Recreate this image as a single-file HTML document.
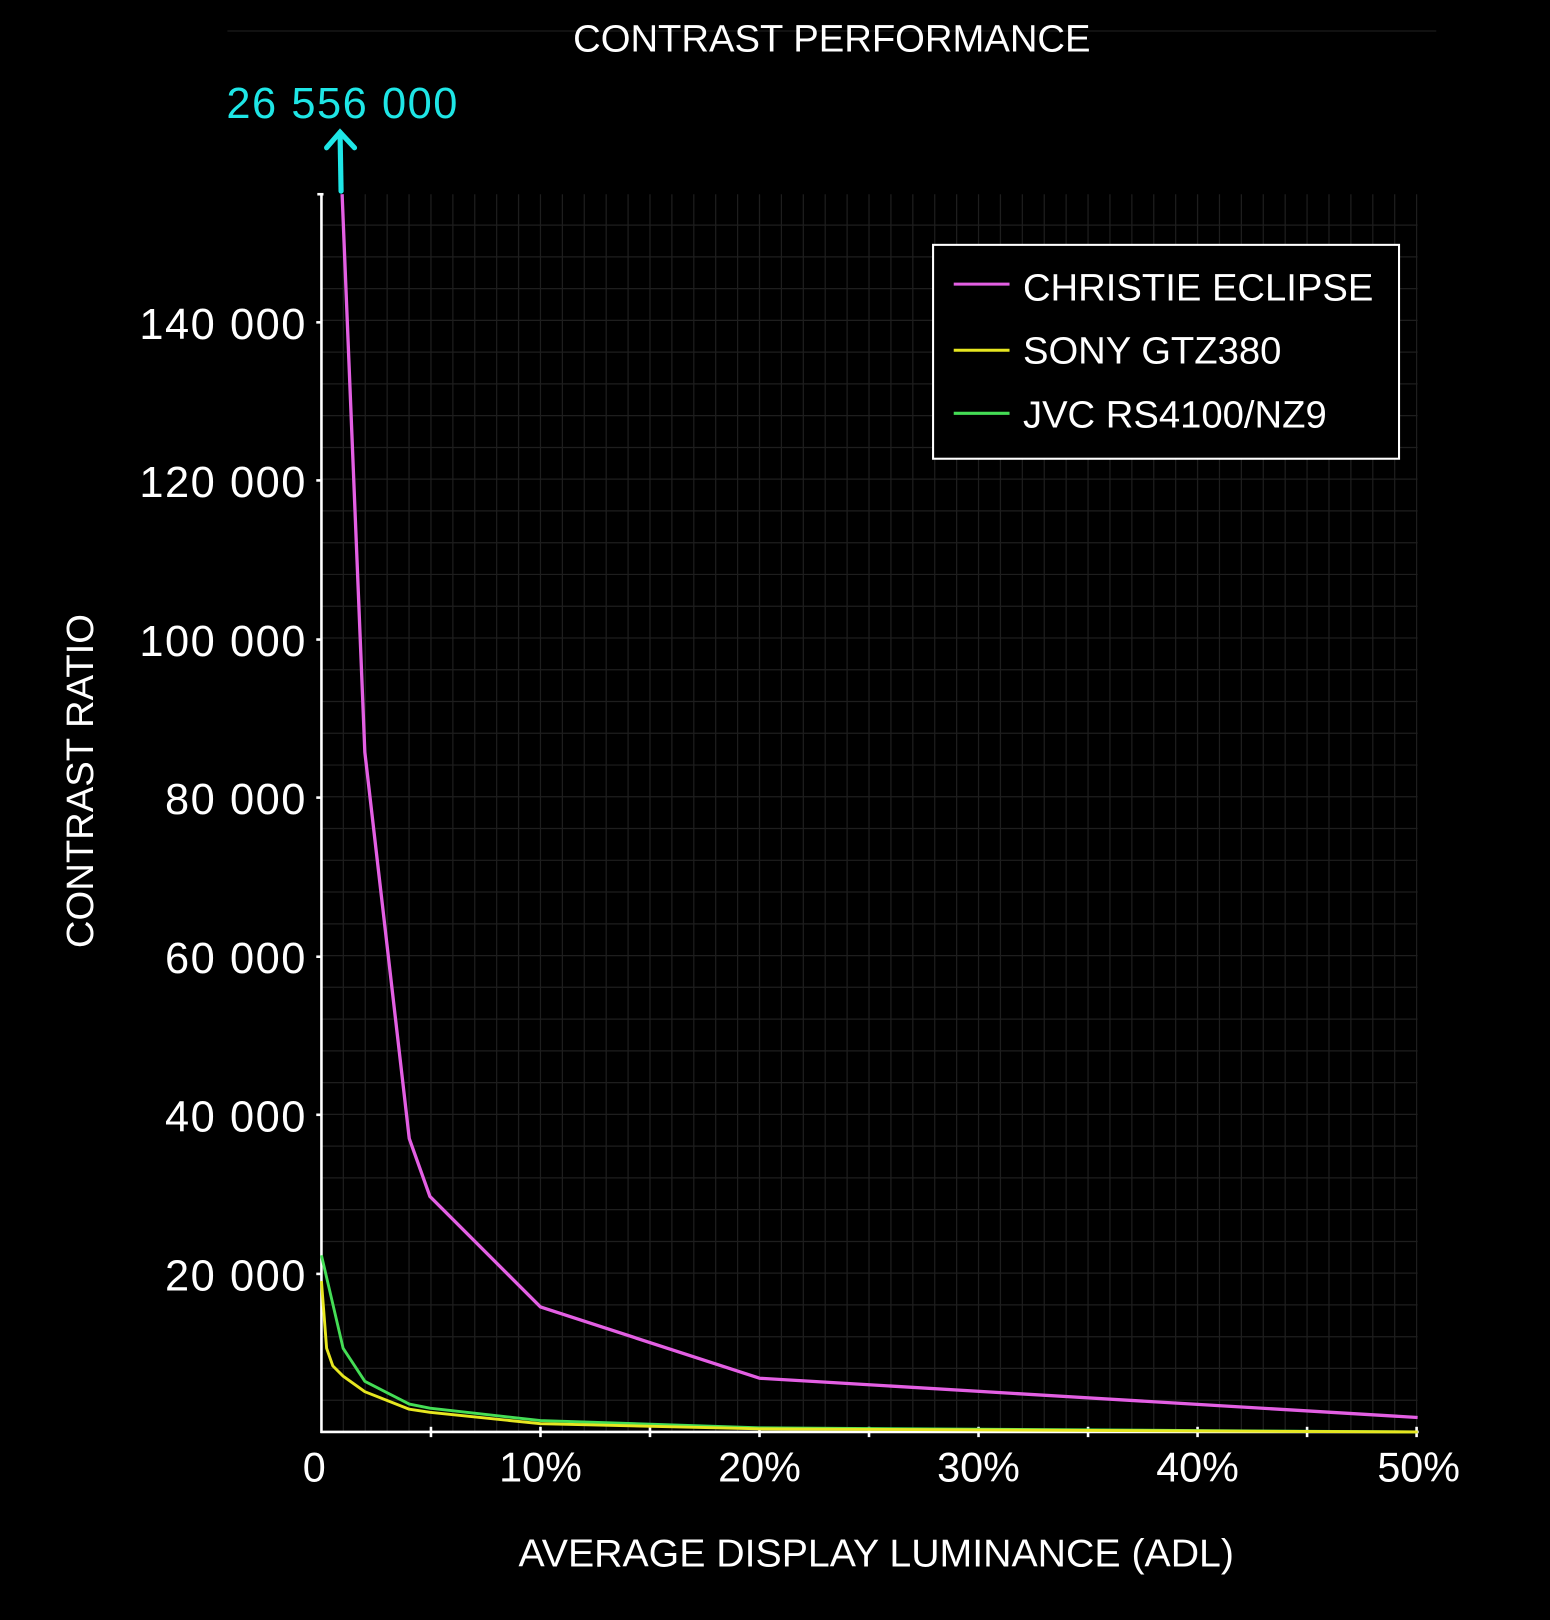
<!DOCTYPE html>
<html><head><meta charset="utf-8"><style>
html,body{margin:0;padding:0;background:#000;}
svg{display:block;}
text{font-family:"Liberation Sans",sans-serif;fill:#fff;}
.num{font-size:42px;letter-spacing:1.5px;}
</style></head><body>
<svg width="1550" height="1620" viewBox="0 0 1500 1568" xmlns="http://www.w3.org/2000/svg">
<rect width="1500" height="1568" fill="#000"/>
<line x1="220" y1="30" x2="1390" y2="30" stroke="#222" stroke-width="1"/>
<text x="805" y="50" font-size="37" text-anchor="middle">CONTRAST PERFORMANCE</text>
<text x="219" y="114" class="num" style="fill:#1ee6e6">26 556 000</text>
<g stroke="#1ee6e6" stroke-width="5" fill="none" stroke-linecap="round">
<line x1="330" y1="185" x2="329" y2="128"/>
<polyline points="316,143 329,128 343,143"/>
</g>
<g stroke="#1e1e1e" stroke-width="1.2">
<line x1="332.2" y1="188" x2="332.2" y2="1386"/><line x1="353.4" y1="188" x2="353.4" y2="1386"/><line x1="374.6" y1="188" x2="374.6" y2="1386"/><line x1="395.8" y1="188" x2="395.8" y2="1386"/><line x1="417" y1="188" x2="417" y2="1386"/><line x1="438.2" y1="188" x2="438.2" y2="1386"/><line x1="459.4" y1="188" x2="459.4" y2="1386"/><line x1="480.6" y1="188" x2="480.6" y2="1386"/><line x1="501.8" y1="188" x2="501.8" y2="1386"/><line x1="523" y1="188" x2="523" y2="1386"/><line x1="544.2" y1="188" x2="544.2" y2="1386"/><line x1="565.4" y1="188" x2="565.4" y2="1386"/><line x1="586.6" y1="188" x2="586.6" y2="1386"/><line x1="607.8" y1="188" x2="607.8" y2="1386"/><line x1="629" y1="188" x2="629" y2="1386"/><line x1="650.2" y1="188" x2="650.2" y2="1386"/><line x1="671.4" y1="188" x2="671.4" y2="1386"/><line x1="692.6" y1="188" x2="692.6" y2="1386"/><line x1="713.8" y1="188" x2="713.8" y2="1386"/><line x1="735" y1="188" x2="735" y2="1386"/><line x1="756.2" y1="188" x2="756.2" y2="1386"/><line x1="777.4" y1="188" x2="777.4" y2="1386"/><line x1="798.6" y1="188" x2="798.6" y2="1386"/><line x1="819.8" y1="188" x2="819.8" y2="1386"/><line x1="841" y1="188" x2="841" y2="1386"/><line x1="862.2" y1="188" x2="862.2" y2="1386"/><line x1="883.4" y1="188" x2="883.4" y2="1386"/><line x1="904.6" y1="188" x2="904.6" y2="1386"/><line x1="925.8" y1="188" x2="925.8" y2="1386"/><line x1="947" y1="188" x2="947" y2="1386"/><line x1="968.2" y1="188" x2="968.2" y2="1386"/><line x1="989.4" y1="188" x2="989.4" y2="1386"/><line x1="1010.6" y1="188" x2="1010.6" y2="1386"/><line x1="1031.8" y1="188" x2="1031.8" y2="1386"/><line x1="1053" y1="188" x2="1053" y2="1386"/><line x1="1074.2" y1="188" x2="1074.2" y2="1386"/><line x1="1095.4" y1="188" x2="1095.4" y2="1386"/><line x1="1116.6" y1="188" x2="1116.6" y2="1386"/><line x1="1137.8" y1="188" x2="1137.8" y2="1386"/><line x1="1159" y1="188" x2="1159" y2="1386"/><line x1="1180.2" y1="188" x2="1180.2" y2="1386"/><line x1="1201.4" y1="188" x2="1201.4" y2="1386"/><line x1="1222.6" y1="188" x2="1222.6" y2="1386"/><line x1="1243.8" y1="188" x2="1243.8" y2="1386"/><line x1="1265" y1="188" x2="1265" y2="1386"/><line x1="1286.2" y1="188" x2="1286.2" y2="1386"/><line x1="1307.4" y1="188" x2="1307.4" y2="1386"/><line x1="1328.6" y1="188" x2="1328.6" y2="1386"/><line x1="1349.8" y1="188" x2="1349.8" y2="1386"/><line x1="1371" y1="188" x2="1371" y2="1386"/>
<line x1="311" y1="1355.3" x2="1372" y2="1355.3"/><line x1="311" y1="1324.5" x2="1372" y2="1324.5"/><line x1="311" y1="1293.8" x2="1372" y2="1293.8"/><line x1="311" y1="1263" x2="1372" y2="1263"/><line x1="311" y1="1232.3" x2="1372" y2="1232.3"/><line x1="311" y1="1201.6" x2="1372" y2="1201.6"/><line x1="311" y1="1170.8" x2="1372" y2="1170.8"/><line x1="311" y1="1140.1" x2="1372" y2="1140.1"/><line x1="311" y1="1109.3" x2="1372" y2="1109.3"/><line x1="311" y1="1078.6" x2="1372" y2="1078.6"/><line x1="311" y1="1047.9" x2="1372" y2="1047.9"/><line x1="311" y1="1017.1" x2="1372" y2="1017.1"/><line x1="311" y1="986.4" x2="1372" y2="986.4"/><line x1="311" y1="955.6" x2="1372" y2="955.6"/><line x1="311" y1="924.9" x2="1372" y2="924.9"/><line x1="311" y1="894.2" x2="1372" y2="894.2"/><line x1="311" y1="863.4" x2="1372" y2="863.4"/><line x1="311" y1="832.7" x2="1372" y2="832.7"/><line x1="311" y1="801.9" x2="1372" y2="801.9"/><line x1="311" y1="771.2" x2="1372" y2="771.2"/><line x1="311" y1="740.5" x2="1372" y2="740.5"/><line x1="311" y1="709.7" x2="1372" y2="709.7"/><line x1="311" y1="679" x2="1372" y2="679"/><line x1="311" y1="648.2" x2="1372" y2="648.2"/><line x1="311" y1="617.5" x2="1372" y2="617.5"/><line x1="311" y1="586.8" x2="1372" y2="586.8"/><line x1="311" y1="556" x2="1372" y2="556"/><line x1="311" y1="525.3" x2="1372" y2="525.3"/><line x1="311" y1="494.5" x2="1372" y2="494.5"/><line x1="311" y1="463.8" x2="1372" y2="463.8"/><line x1="311" y1="433.1" x2="1372" y2="433.1"/><line x1="311" y1="402.3" x2="1372" y2="402.3"/><line x1="311" y1="371.6" x2="1372" y2="371.6"/><line x1="311" y1="340.8" x2="1372" y2="340.8"/><line x1="311" y1="310.1" x2="1372" y2="310.1"/><line x1="311" y1="279.4" x2="1372" y2="279.4"/><line x1="311" y1="248.6" x2="1372" y2="248.6"/><line x1="311" y1="217.9" x2="1372" y2="217.9"/>
</g>
<g stroke="#fff" stroke-width="2.5">
<line x1="311" y1="188" x2="311" y2="1387"/>
<line x1="310" y1="1386" x2="1373" y2="1386"/>
<line x1="307" y1="188" x2="313" y2="188"/>
<line x1="306" y1="1233" x2="311" y2="1233"/><line x1="306" y1="1079" x2="311" y2="1079"/><line x1="306" y1="926" x2="311" y2="926"/><line x1="306" y1="772" x2="311" y2="772"/><line x1="306" y1="619" x2="311" y2="619"/><line x1="306" y1="465" x2="311" y2="465"/><line x1="306" y1="312" x2="311" y2="312"/>
<line x1="417" y1="1381" x2="417" y2="1391"/><line x1="523" y1="1381" x2="523" y2="1391"/><line x1="629" y1="1381" x2="629" y2="1391"/><line x1="735" y1="1381" x2="735" y2="1391"/><line x1="841" y1="1381" x2="841" y2="1391"/><line x1="947" y1="1381" x2="947" y2="1391"/><line x1="1053" y1="1381" x2="1053" y2="1391"/><line x1="1159" y1="1381" x2="1159" y2="1391"/><line x1="1265" y1="1381" x2="1265" y2="1391"/><line x1="1371" y1="1381" x2="1371" y2="1391"/>
</g>
<g class="num" text-anchor="end">
<text x="297" y="1249">20 000</text><text x="297" y="1095">40 000</text><text x="297" y="942">60 000</text><text x="297" y="788">80 000</text><text x="297" y="635">100 000</text><text x="297" y="481">120 000</text><text x="297" y="328">140 000</text>
</g>
<g font-size="40" text-anchor="middle">
<text x="304" y="1434">0</text><text x="523" y="1434">10%</text><text x="735" y="1434">20%</text><text x="947" y="1434">30%</text><text x="1159" y="1434">40%</text><text x="1373" y="1434">50%</text>
</g>
<text x="848" y="1516" font-size="38" text-anchor="middle">AVERAGE DISPLAY LUMINANCE (ADL)</text>
<text transform="translate(90,756) rotate(-90)" font-size="37" text-anchor="middle">CONTRAST RATIO</text>
<g fill="none" stroke-width="2.8" stroke-linejoin="round">
<polyline stroke="#44dd55" points="311,1215 332,1305 353,1337 396,1359 416,1363 523,1375 735,1382 1372,1386"/>
<polyline stroke="#e6e620" points="311,1240 316,1305 322,1322 332,1332 353,1347 396,1364 416,1367 523,1378 735,1383 1372,1386"/>
<polyline stroke="#e35fe3" stroke-width="3.2" points="331,188 353,728 396,1102 416,1158 523,1265 735,1334 1372,1372"/>
</g>
<rect x="903" y="237" width="451" height="207" fill="#000" stroke="#fff" stroke-width="2"/>
<line x1="923" y1="275" x2="977" y2="275" stroke="#e35fe3" stroke-width="3"/>
<line x1="923" y1="339" x2="977" y2="339" stroke="#e6e620" stroke-width="3"/>
<line x1="923" y1="400" x2="977" y2="400" stroke="#44dd55" stroke-width="3"/>
<g font-size="37">
<text x="990" y="291">CHRISTIE ECLIPSE</text>
<text x="990" y="352">SONY GTZ380</text>
<text x="990" y="414">JVC RS4100/NZ9</text>
</g>
</svg>
</body></html>
